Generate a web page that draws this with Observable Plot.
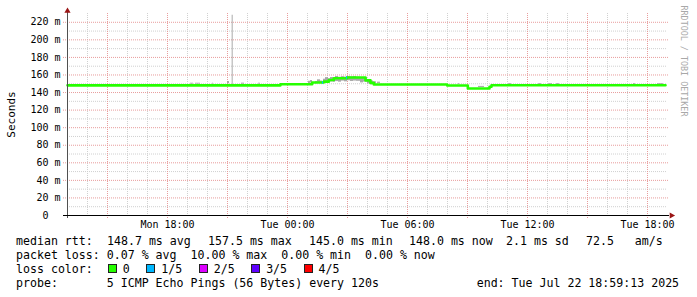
<!DOCTYPE html>
<html><head><meta charset="utf-8">
<script src="https://cdn.jsdelivr.net/npm/d3@7"></script>
<script src="https://cdn.jsdelivr.net/npm/@observablehq/plot@0.6"></script>
<style>
body{margin:0;background:#fff;}
#wrap{position:relative;width:697px;height:297px;overflow:hidden;background:#fff;}
.leg{position:relative;height:14px;font-family:'DejaVu Sans Mono',monospace;font-size:11.6px;line-height:14px;white-space:pre;color:#000;padding-left:16px;}
.it{position:absolute;top:0;}
.sq{display:inline-block;width:7px;height:7px;border:1px solid #222;margin-left:1px;margin-right:6px;}
.lt{margin-right:15.5px;}
</style></head>
<body><div id="wrap"></div>
<script>
// ---- data ----
const startTime = "07-21 13:00";
const endTime = "07-22 19:00";
const yTicks = [0, 20, 40, 60, 80, 100, 120, 140, 160, 180, 200, 220];
const yMinor = [10, 30, 50, 70, 90, 110, 130, 150, 170, 190, 210];
const xTicks = ["07-21 18:00", "07-22 00:00", "07-22 06:00", "07-22 12:00", "07-22 18:00"];
const xMajor = ["07-21 15:00", "07-21 18:00", "07-21 21:00", "07-22 00:00", "07-22 03:00", "07-22 06:00", "07-22 09:00", "07-22 12:00", "07-22 15:00", "07-22 18:00"];
const xMinor = ["07-21 14:00", "07-21 16:00", "07-21 17:00", "07-21 19:00", "07-21 20:00", "07-21 22:00", "07-21 23:00", "07-22 01:00", "07-22 02:00", "07-22 04:00", "07-22 05:00", "07-22 07:00", "07-22 08:00", "07-22 10:00", "07-22 11:00", "07-22 13:00", "07-22 14:00", "07-22 16:00", "07-22 17:00"];

// median rtt (ms), step series
const medianTimes = ["07-21 13:00", "07-21 23:39", "07-22 01:14", "07-22 01:49", "07-22 02:04", "07-22 02:19", "07-22 02:59", "07-22 03:54", "07-22 04:09", "07-22 04:19", "07-22 07:59", "07-22 09:01", "07-22 10:06", "07-22 10:12", "07-22 18:54"];
const medianValues = [148.2, 149.4, 151.5, 152.4, 154.3, 156.3, 157.2, 153.8, 151.0, 149.2, 148.1, 144.6, 146.6, 148.3, 148.3];

// smoke (spread of individual pings, ms)
const smokeStart = ["07-21 19:09", "07-21 19:24", "07-21 20:15", "07-21 21:00", "07-21 21:14", "07-21 21:42", "07-21 22:33",
  "07-22 01:03", "07-22 01:09", "07-22 01:24", "07-22 01:30", "07-22 01:39", "07-22 01:48", "07-22 01:54", "07-22 02:03", "07-22 02:09", "07-22 02:18", "07-22 02:24", "07-22 02:33", "07-22 02:42", "07-22 02:51", "07-22 03:00", "07-22 03:09", "07-22 03:18", "07-22 03:27", "07-22 03:39", "07-22 03:48", "07-22 04:00", "07-22 04:09", "07-22 04:18", "07-22 04:30",
  "07-22 08:33", "07-22 09:33", "07-22 11:03", "07-22 12:33", "07-22 13:03", "07-22 13:27", "07-22 17:18", "07-22 18:30"];
const smokeEnd = ["07-21 19:18", "07-21 19:39", "07-21 20:18", "07-21 21:06", "07-21 21:17", "07-21 21:51", "07-21 22:39",
  "07-22 01:09", "07-22 01:15", "07-22 01:30", "07-22 01:39", "07-22 01:45", "07-22 01:54", "07-22 02:03", "07-22 02:09", "07-22 02:18", "07-22 02:24", "07-22 02:33", "07-22 02:42", "07-22 02:51", "07-22 03:00", "07-22 03:09", "07-22 03:18", "07-22 03:27", "07-22 03:39", "07-22 03:48", "07-22 04:00", "07-22 04:09", "07-22 04:18", "07-22 04:27", "07-22 04:39",
  "07-22 08:36", "07-22 09:51", "07-22 11:12", "07-22 12:42", "07-22 13:15", "07-22 13:36", "07-22 17:24", "07-22 18:48"];
const smokeLow = [149.6, 149.6, 149.6, 150.0, 149.0, 149.5, 149.6,
  150.2, 150.8, 150.0, 151.2, 150.4, 151.0, 152.3, 151.4, 152.0, 151.7, 152.5, 151.8, 153.0, 152.2, 153.4, 152.6, 153.1, 152.8, 151.0, 151.9, 149.8, 148.9, 150.0, 150.4,
  149.4, 145.8, 149.4, 149.4, 149.4, 149.4, 149.4, 149.4];
const smokeHigh = [150.6, 150.6, 150.6, 152.5, 228.0, 150.7, 150.6,
  152.8, 153.7, 152.5, 154.5, 153.1, 155.2, 157.0, 155.8, 157.1, 156.2, 158.3, 157.4, 158.1, 157.6, 158.3, 157.9, 158.2, 157.5, 156.4, 157.0, 154.9, 153.2, 152.2, 151.8,
  150.3, 147.0, 150.3, 150.3, 150.3, 150.3, 150.3, 150.3];

// median segments with 1/5 packet loss
const lossStart = ["07-22 01:45", "07-22 02:57"];
const lossEnd = ["07-22 01:48", "07-22 03:00"];
const lossValue = [151.5, 157.2];

const lossLabels = ["0", "1/5", "2/5", "3/5", "4/5"];
const lossColors = ["#26ff00", "#00b8ff", "#dd00ff", "#5e00ff", "#ff0000"];

const statsItems = ["median rtt:", "148.7 ms avg", "157.5 ms max", "145.0 ms min", "148.0 ms now", "2.1 ms sd", "72.5   am/s"];
const statsLeft = [16, 107, 208, 309, 409, 506, 586];
const statsLine2 = "packet loss: 0.07 % avg  10.00 % max  0.00 % min  0.00 % now";
const probeLine = "probe:       5 ICMP Echo Pings (56 Bytes) every 120s              end: Tue Jul 22 18:59:13 2025";

// ---- chart ----
const T = s => new Date(`2025-${s.replace(" ", "T")}:00Z`);
const fmt = d3.utcFormat("%a %H:%M");
const mono = "'DejaVu Sans Mono', monospace";

const medianData = medianTimes.map((t, i) => ({t: T(t), v: medianValues[i]}));

const chart = Plot.plot({
  width: 697, height: 234,
  marginLeft: 67, marginRight: 30, marginTop: 13, marginBottom: 19,
  style: {fontFamily: mono, fontSize: "10px", background: "#fff", color: "#000"},
  x: {type: "utc", domain: [T(startTime), T(endTime)]},
  y: {domain: [0, 230]},
  marks: [
    Plot.ruleX(xMinor.map(T), {stroke: "#d0d0d0", strokeDasharray: "1,1"}),
    Plot.ruleY(yMinor, {stroke: "#d0d0d0", strokeDasharray: "1,1"}),
    Plot.ruleX(xMajor.map(T), {stroke: "#e89c9c", strokeDasharray: "1,1", insetBottom: -4}),
    Plot.ruleY(yTicks.slice(1), {stroke: "#e89c9c", strokeDasharray: "1,1", insetLeft: -4, insetRight: -2}),
    Plot.rect(smokeStart, {x1: smokeStart.map(T), x2: smokeEnd.map(T), y1: smokeLow, y2: smokeHigh, fill: "#9a9a9a", fillOpacity: 0.85}),
    Plot.line(medianData, {x: "t", y: "v", curve: "step-after", stroke: "#26ff00", strokeWidth: 2.6}),
    Plot.ruleY(lossValue, {x1: lossStart.map(T), x2: lossEnd.map(T), stroke: "#00b8ff", strokeWidth: 2.6}),
    Plot.ruleX([T(startTime)], {stroke: "#505050", insetTop: -4, insetBottom: -3}),
    Plot.ruleY([0], {stroke: "#000", insetLeft: -4, insetRight: -2}),
    Plot.dot([0], {frameAnchor: "top-left", symbol: "triangle", r: 2.3, fill: "#9a1515", stroke: "none", dy: -2.5}),
    Plot.dot([0], {frameAnchor: "bottom-right", symbol: "triangle", rotate: 90, r: 2.3, fill: "#9a1515", stroke: "none", dx: 4}),
    Plot.axisY({ticks: yTicks, tickSize: 0, tickPadding: 7, label: null, tickFormat: d => d === 0 ? "0\u00a0\u00a0" : `${d} m`, fill: "#000"}),
    Plot.axisX({ticks: xTicks.map(T), tickSize: 0, tickPadding: 5, label: null, tickFormat: fmt, fill: "#000"}),
    Plot.text(["Seconds"], {frameAnchor: "left", rotate: -90, textAnchor: "middle", dx: -56, fontSize: 11, fill: "#000"}),
    Plot.text(["RRDTOOL / TOBI OETIKER"], {frameAnchor: "top-right", rotate: 90, textAnchor: "start", dx: 19, dy: -8, fontSize: 8.4, fill: "#a8a8a8"})
  ]
});

const wrap = document.getElementById("wrap");
wrap.appendChild(chart);

function line(text) {
  const d = document.createElement("div");
  d.className = "leg";
  d.textContent = text;
  wrap.appendChild(d);
  return d;
}
const l1 = line("");
statsItems.forEach((s, i) => {
  const sp = document.createElement("span");
  sp.className = "it";
  sp.style.left = statsLeft[i] + "px";
  sp.textContent = s;
  l1.appendChild(sp);
});
line(statsLine2);
const l3 = line("loss color:  ");
lossLabels.forEach((lab, i) => {
  const sq = document.createElement("span");
  sq.className = "sq";
  sq.style.background = lossColors[i];
  l3.appendChild(sq);
  const t = document.createElement("span");
  t.className = "lt";
  t.textContent = lab;
  l3.appendChild(t);
});
line(probeLine);
</script>
</body></html>
